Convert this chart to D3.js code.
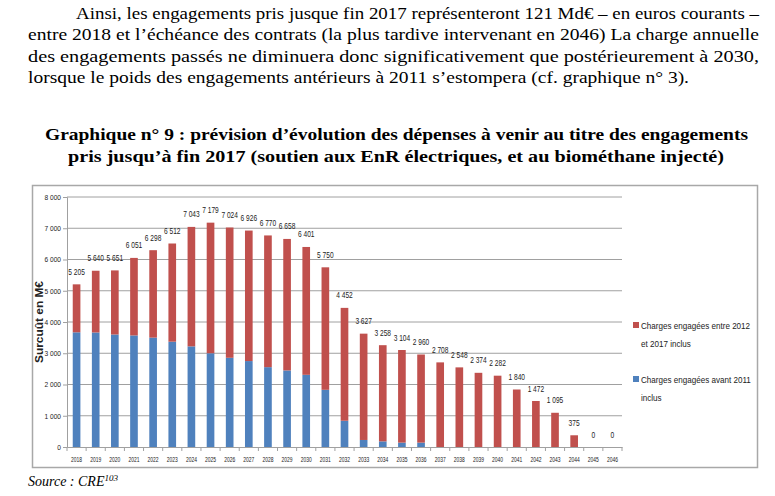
<!DOCTYPE html>
<html><head><meta charset="utf-8">
<script src="https://cdn.jsdelivr.net/npm/d3@7/dist/d3.min.js"></script>
<style>
body{margin:0;background:#fff}
.serif{font-family:"Liberation Serif","Tinos","Times New Roman","DejaVu Serif",serif}
.sans{font-family:"Liberation Sans","Arimo",Arial,sans-serif}
</style></head>
<body>
<svg id="c" width="775" height="496" xmlns="http://www.w3.org/2000/svg"></svg>
<script>
// ---- data ----
const years = ["2018","2019","2020","2021","2022","2023","2024","2025","2026","2027","2028","2029","2030","2031","2032","2033","2034","2035","2036","2037","2038","2039","2040","2041","2042","2043","2044","2045","2046"];
const totals = [5205,5640,5651,6051,6298,6512,7043,7179,7024,6926,6770,6658,6401,5750,4452,3627,3258,3104,2960,2708,2548,2374,2282,1840,1472,1095,375,0,0];
const avant2011 = [3670,3665,3600,3570,3500,3370,3220,3000,2855,2750,2555,2450,2310,1830,840,225,180,140,140,0,0,0,0,0,0,0,0,0,0];
const entre2012 = [1535,1975,2051,2481,2798,3142,3823,4179,4169,4176,4215,4208,4091,3920,3612,3402,3078,2964,2820,2708,2548,2374,2282,1840,1472,1095,375,0,0];
const yTicks = [0,1000,2000,3000,4000,5000,6000,7000,8000];
const seriesNames = ["Charges engagées entre 2012|et 2017 inclus","Charges engagées avant 2011|inclus"];
const paragraph = [
 "Ainsi, les engagements pris jusque fin 2017 représenteront 121 Md€ – en euros courants –",
 "entre 2018 et l’échéance des contrats (la plus tardive intervenant en 2046) La charge annuelle",
 "des engagements passés ne diminuera donc significativement que postérieurement à 2030,",
 "lorsque le poids des engagements antérieurs à 2011 s’estompera (cf. graphique n° 3)."
];
const titleLines = [
 "Graphique n° 9 : prévision d’évolution des dépenses à venir au titre des engagements",
 "pris jusqu’à fin 2017 (soutien aux EnR électriques, et au biométhane injecté)"
];
const yTitle = "Surcuût en M€";

// ---- drawing ----
const svg = d3.select("#c");
const RED = "#c0504d", BLUE = "#4f81bd";
function narrow(sel, f){
  sel.each(function(){
    const w = this.getComputedTextLength();
    if (w > 0) d3.select(this).attr("textLength", w*f).attr("lengthAdjust","spacingAndGlyphs");
  });
}
// condensed width for numeric labels
const numWidth = s => [...s].reduce((a,c)=>a+(c===" "?1.7:3.7),0);

// paragraph
const pStarts = [76, 28, 28, 28];
const pEnds = [759, 759, 759, 689];
const pBase = [18.5, 40, 61.5, 83];
paragraph.forEach((t,i)=>{
  svg.append("text").attr("class","serif").attr("x",pStarts[i]).attr("y",pBase[i])
    .attr("font-size",17.5)
    .attr("textLength",pEnds[i]-pStarts[i]).attr("lengthAdjust","spacingAndGlyphs")
    .text(t);
});
// title
const tBase=[140,162], tX=[45,68], tEnd=[748,724];
titleLines.forEach((t,i)=>{
  svg.append("text").attr("class","serif").attr("x",tX[i]).attr("y",tBase[i])
    .attr("font-size",17.5).attr("font-weight","bold")
    .attr("textLength",tEnd[i]-tX[i]).attr("lengthAdjust","spacingAndGlyphs").text(t);
});

// frame
svg.append("rect").attr("x",32.5).attr("y",185.5).attr("width",725).attr("height",282)
  .attr("fill","none").attr("stroke","#a8a8a8").attr("stroke-width",1.5);

const x = d3.scaleBand().domain(years).range([67,622]).paddingInner(0.6).paddingOuter(0.3);
const y = d3.scaleLinear().domain([0,8000]).range([447,197]);
const fmt = v => d3.format(",")(v).replace(/,/g," ");

// gridlines
svg.append("g").selectAll("line").data(yTicks.filter(d=>d>0)).join("line")
  .attr("x1",67).attr("x2",622).attr("y1",d=>y(d)).attr("y2",d=>y(d))
  .attr("stroke","#a0a0a0").attr("stroke-width",1);

// y axis
const ya = svg.append("g").attr("transform","translate(67,0)")
  .call(d3.axisLeft(y).tickValues(yTicks).tickSize(4).tickPadding(2).tickFormat(fmt));
ya.attr("font-family",null);
ya.select(".domain").attr("stroke","#a0a0a0");
ya.selectAll(".tick line").attr("stroke","#a0a0a0");
ya.selectAll("text").attr("class","sans").attr("font-size",7.5).attr("fill","#222")
  .attr("textLength",function(){return numWidth(this.textContent);}).attr("lengthAdjust","spacingAndGlyphs");

// x axis
const xa = svg.append("g").attr("transform","translate(0,447)")
  .call(d3.axisBottom(x).tickSize(0).tickPadding(10));
xa.attr("font-family",null);
xa.select(".domain").attr("stroke","#a0a0a0");
xa.selectAll("text").attr("class","sans").attr("font-size",7).attr("fill","#222")
  .attr("textLength",11).attr("lengthAdjust","spacingAndGlyphs");
const step = x.step();
svg.append("g").selectAll("line").data(years.concat(["end"])).join("line")
  .attr("x1",(d,i)=>67+i*step).attr("x2",(d,i)=>67+i*step)
  .attr("y1",447).attr("y2",451).attr("stroke","#a0a0a0");

// bars
const rows = years.map((yr,i)=>({yr, a:avant2011[i], b:entre2012[i], t:totals[i]}));
const stack = d3.stack().keys(["a","b"])(rows);
const colors = {a:BLUE, b:RED};
svg.append("g").selectAll("g").data(stack).join("g").attr("fill",s=>colors[s.key])
  .selectAll("rect").data(s=>s).join("rect")
  .attr("x",d=>x(d.data.yr)).attr("width",x.bandwidth())
  .attr("y",d=>y(d[1])).attr("height",d=>y(d[0])-y(d[1]));

// data labels
svg.append("g").selectAll("text").data(rows).join("text")
  .attr("class","sans")
  .attr("x",d=>x(d.yr)+x.bandwidth()/2).attr("y",d=>y(d.t)-9.5)
  .attr("text-anchor","middle").attr("font-size",8.5).attr("fill","#222")
  .text(d=>fmt(d.t))
  .attr("textLength",d=>numWidth(fmt(d.t))).attr("lengthAdjust","spacingAndGlyphs");

// y title
svg.append("text").attr("class","sans").attr("transform","translate(43,322) rotate(-90)").attr("text-anchor","middle")
  .attr("font-size",11).attr("font-weight","bold")
  .attr("textLength",82).attr("lengthAdjust","spacingAndGlyphs")
  .attr("fill","#222").text(yTitle);

// legend
const lg = [{c:RED,y:325},{c:BLUE,y:379}];
seriesNames.forEach((n,i)=>{
  const g = svg.append("g");
  g.append("rect").attr("x",633).attr("y",lg[i].y-3).attr("width",6).attr("height",6).attr("fill",lg[i].c);
  n.split("|").forEach((line,j)=>{
    g.append("text").attr("class","sans leg").attr("x",641).attr("y",lg[i].y+3.5+j*18)
      .attr("font-size",9.5).attr("fill","#222").text(line);
  });
});

// source
const src = svg.append("text").attr("class","serif").attr("x",28).attr("y",485.5)
  .attr("font-size",14).attr("font-style","italic");
src.append("tspan").text("Source : CRE");
src.append("tspan").attr("font-size",9).attr("dy",-5).text("103");

// condensed look of the legend texts
narrow(svg.selectAll("text.leg"), 0.85);
</script>
</body></html>
